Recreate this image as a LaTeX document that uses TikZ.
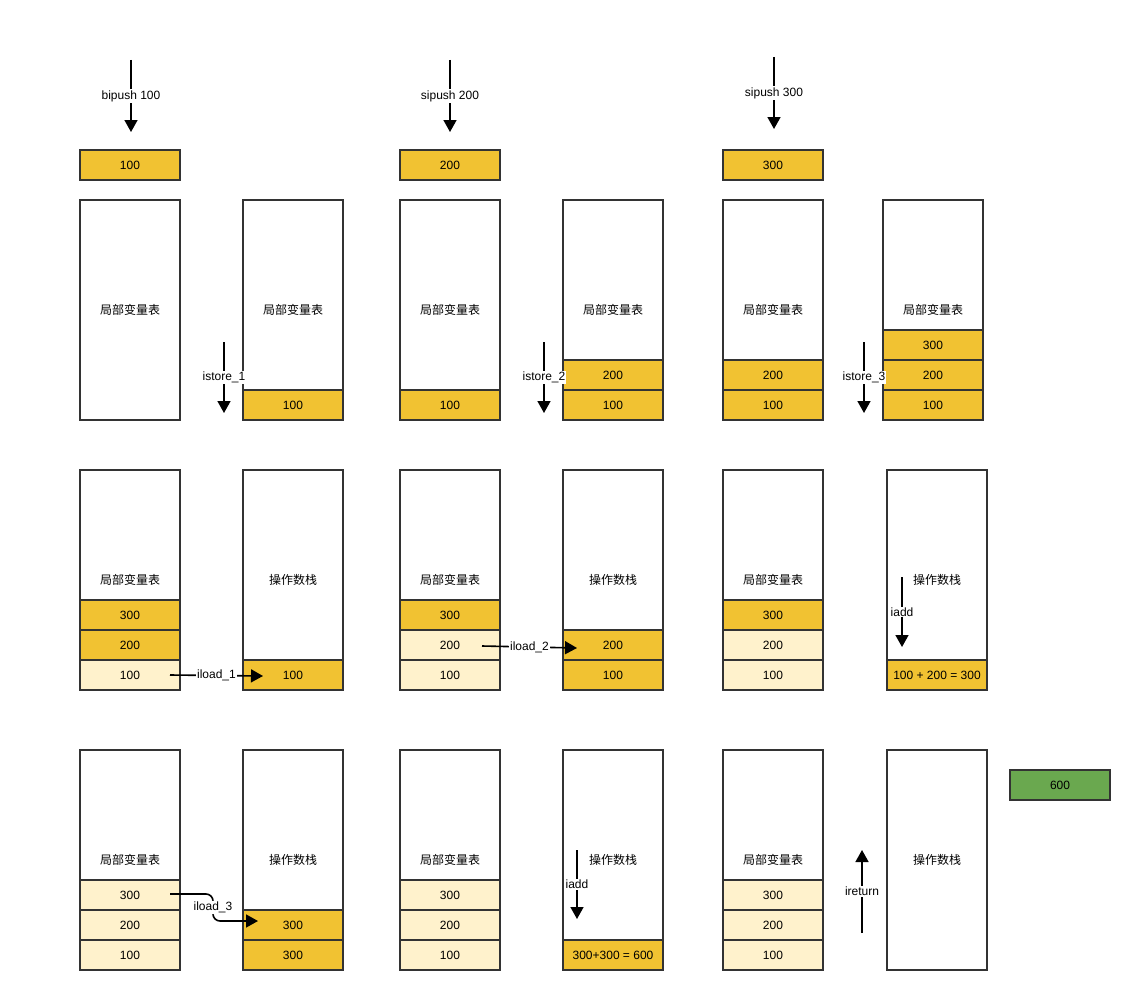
\documentclass[tikz,border=0pt]{standalone}
\usepackage{fontspec}
\setmainfont{Liberation Sans}
\newfontfamily\cjk{Noto Sans CJK SC}
\usetikzlibrary{arrows.meta}
\definecolor{yel}{HTML}{F1C232}
\definecolor{lyel}{HTML}{FFF2CC}
\definecolor{grn}{HTML}{6AA84F}
\definecolor{edge}{HTML}{333333}
\tikzset{
  every node/.style={font=\fontsize{12}{14}\selectfont},
  frame/.style={draw=edge, line width=1.6pt, fill=white, inner sep=0pt,
    minimum width=100pt, minimum height=220pt, font=\cjk\fontsize{12}{14}\selectfont},
  cell/.style={draw=edge, line width=1.6pt, fill=yel, inner sep=0pt,
    minimum width=100pt, minimum height=30pt},
  lcell/.style={cell, fill=lyel},
  op/.style={line width=1.6pt, -{Triangle[width=13pt,length=12pt]}},
  oplabel/.style={fill=white, inner sep=1pt}
}
\begin{document}
\begin{tikzpicture}[x=1pt,y=-1pt]
  \useasboundingbox (0,0) rectangle (1130,990);
  % top row
  \node[cell] (push1) at (130,165) {100};
  \node[cell] (push2) at (450,165) {200};
  \node[cell] (push3) at (773,165) {300};
  % second row
  \node[frame] (lv1) at (130,310) {局部变量表};
  \node[frame] (lv2) at (293,310) {局部变量表};
  \node[cell] (lv2a) at (293,405) {100};
  \node[frame] (lv3) at (450,310) {局部变量表};
  \node[cell] (lv3a) at (450,405) {100};
  \node[frame] (lv4) at (613,310) {局部变量表};
  \node[cell] (lv4a) at (613,405) {100};
  \node[cell] (lv4b) at (613,375) {200};
  \node[frame] (lv5) at (773,310) {局部变量表};
  \node[cell] (lv5a) at (773,405) {100};
  \node[cell] (lv5b) at (773,375) {200};
  \node[frame] (lv6) at (933,310) {局部变量表};
  \node[cell] (lv6a) at (933,405) {100};
  \node[cell] (lv6b) at (933,375) {200};
  \node[cell] (lv6c) at (933,345) {300};
  % third row
  \node[frame] (ld1) at (130,580) {局部变量表};
  \node[lcell] (ld1a) at (130,675) {100};
  \node[cell] (ld1b) at (130,645) {200};
  \node[cell] (ld1c) at (130,615) {300};
  \node[frame] (os1) at (293,580) {操作数栈};
  \node[cell] (os1a) at (293,675) {100};
  \node[frame] (ld2) at (450,580) {局部变量表};
  \node[lcell] (ld2a) at (450,675) {100};
  \node[lcell] (ld2b) at (450,645) {200};
  \node[cell] (ld2c) at (450,615) {300};
  \node[frame] (os2) at (613,580) {操作数栈};
  \node[cell] (os2a) at (613,675) {100};
  \node[cell] (os2b) at (613,645) {200};
  \node[frame] (ld3) at (773,580) {局部变量表};
  \node[lcell] (ld3a) at (773,675) {100};
  \node[lcell] (ld3b) at (773,645) {200};
  \node[cell] (ld3c) at (773,615) {300};
  \node[frame] (os3) at (937,580) {操作数栈};
  \node[cell] (os3a) at (937,675) {100 + 200 = 300};
  % fourth row
  \node[frame] (ld4) at (130,860) {局部变量表};
  \node[lcell] (ld4a) at (130,955) {100};
  \node[lcell] (ld4b) at (130,925) {200};
  \node[lcell] (ld4c) at (130,895) {300};
  \node[frame] (os4) at (293,860) {操作数栈};
  \node[cell] (os4a) at (293,955) {300};
  \node[cell] (os4b) at (293,925) {300};
  \node[frame] (ld5) at (450,860) {局部变量表};
  \node[lcell] (ld5a) at (450,955) {100};
  \node[lcell] (ld5b) at (450,925) {200};
  \node[lcell] (ld5c) at (450,895) {300};
  \node[frame] (os5) at (613,860) {操作数栈};
  \node[cell] (os5a) at (613,955) {300+300 = 600};
  \node[frame] (ld6) at (773,860) {局部变量表};
  \node[lcell] (ld6a) at (773,955) {100};
  \node[lcell] (ld6b) at (773,925) {200};
  \node[lcell] (ld6c) at (773,895) {300};
  \node[frame] (os6) at (937,860) {操作数栈};
  \node[cell, fill=grn] (res) at (1060,785) {600};
  % instruction arrows
  \coordinate (bp1s) at (131,60);   \coordinate (bp1e) at (131,132);
  \coordinate (sp2s) at (450,60);   \coordinate (sp2e) at (450,132);
  \coordinate (sp3s) at (774,57);   \coordinate (sp3e) at (774,129);
  \coordinate (is1s) at (224,342);  \coordinate (is1e) at (224,413);
  \coordinate (is2s) at (544,342);  \coordinate (is2e) at (544,413);
  \coordinate (is3s) at (864,342);  \coordinate (is3e) at (864,413);
  \coordinate (il1s) at (170,675);  \coordinate (il1e) at (263,676);
  \coordinate (il2s) at (482,646);  \coordinate (il2e) at (577,648);
  \coordinate (ad1s) at (902,577);  \coordinate (ad1e) at (902,647);
  \coordinate (il3s) at (170,894);  \coordinate (il3e) at (258,921);
  \coordinate (ad2s) at (577,850);  \coordinate (ad2e) at (577,919);
  \coordinate (rts) at (862,933);   \coordinate (rte) at (862,850);
  \draw[op] (bp1s) -- node[oplabel]{bipush 100} (bp1e);
  \draw[op] (sp2s) -- node[oplabel]{sipush 200} (sp2e);
  \draw[op] (sp3s) -- node[oplabel]{sipush 300} (sp3e);
  \draw[op] (is1s) -- node[oplabel]{istore\_1} (is1e);
  \draw[op] (is2s) -- node[oplabel]{istore\_2} (is2e);
  \draw[op] (is3s) -- node[oplabel]{istore\_3} (is3e);
  \draw[op] (il1s) -- node[oplabel]{iload\_1} (il1e);
  \draw[op] (il2s) -- node[oplabel]{iload\_2} (il2e);
  \draw[op] (ad1s) -- node[oplabel]{iadd} (ad1e);
  \draw[op, rounded corners=7pt] (il3s) -- (213,894) -- node[oplabel]{iload\_3} (213,921) -- (il3e);
  \draw[op] (ad2s) -- node[oplabel]{iadd} (ad2e);
  \draw[op] (rts) -- node[oplabel]{ireturn} (rte);
\end{tikzpicture}
\end{document}
